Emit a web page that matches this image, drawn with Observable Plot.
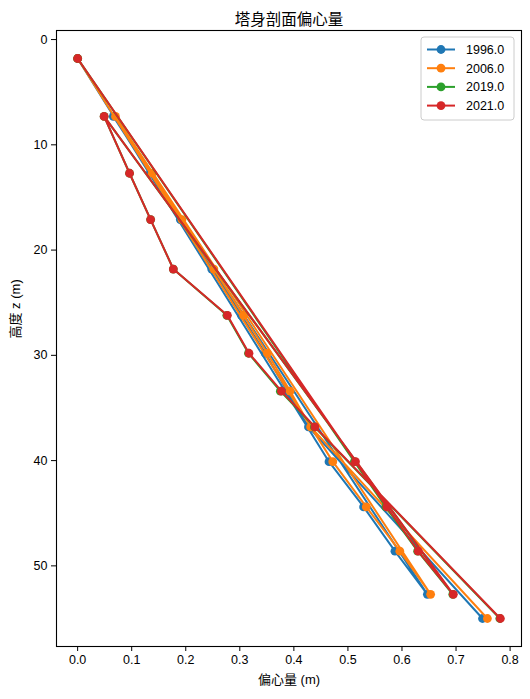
<!DOCTYPE html>
<html>
<head>
<meta charset="utf-8">
<script src="https://cdn.jsdelivr.net/npm/d3@7"></script>
<script src="https://cdn.jsdelivr.net/npm/@observablehq/plot@0.6"></script>
<style>
  html, body { margin: 0; padding: 0; background: #fff; }
  #chart svg { font-family: "Liberation Sans", Arial, "Noto Sans CJK SC", sans-serif; }
</style>
</head>
<body>
<div id="chart"></div>
<script>
// Sections in their original (string-sorted) order: 1,10,11,12,13,2,...,9, then the top point
const sections = ["1", "10", "11", "12", "13", "2", "3", "4", "5", "6", "7", "8", "9", "顶"];
const heights  = [1.8, 40.1, 44.4, 48.6, 52.7, 7.3, 12.7, 17.1, 21.8, 26.2, 29.8, 33.4, 36.8, 55.0];

const years = ["1996.0", "2006.0", "2019.0", "2021.0"];
const colors = ["#1f77b4", "#ff7f0e", "#2ca02c", "#d62728"];

const ecc1996 = [0, 0.465, 0.529, 0.587, 0.647, 0.066, 0.134, 0.190, 0.248, 0.303, 0.347, 0.388, 0.427, 0.749];
const ecc2006 = [0, 0.472, 0.534, 0.596, 0.653, 0.070, 0.138, 0.193, 0.252, 0.307, 0.351, 0.393, 0.431, 0.758];
const ecc2019 = [0, 0.512, 0.570, 0.629, 0.694, 0.049, 0.096, 0.135, 0.177, 0.276, 0.316, 0.375, 0.438, 0.781];
const ecc2021 = [0, 0.514, 0.572, 0.630, 0.695, 0.049, 0.096, 0.135, 0.177, 0.277, 0.317, 0.377, 0.439, 0.782];

const xTicks = [0, 0.1, 0.2, 0.3, 0.4, 0.5, 0.6, 0.7, 0.8];
const yTicks = [0, 10, 20, 30, 40, 50];

const title = "塔身剖面偏心量";
const xLabel = "偏心量 (m)";
const yLabel = "高度 z (m)";

const seriesValues = [ecc1996, ecc2006, ecc2019, ecc2021];
const series = years.map((year, i) =>
  sections.map((s, j) => ({ year, section: s, ecc: seriesValues[i][j], z: heights[j] }))
);

const allX = seriesValues.flat();
const xmin = d3.min(allX), xmax = d3.max(allX);
const xpad = (xmax - xmin) * 0.05;
const ymin = d3.min(heights), ymax = d3.max(heights);
const ypad = (ymax - ymin) * 0.05;

const marks = [];
series.forEach((data) => {
  marks.push(Plot.line(data, { x: "ecc", y: "z", stroke: "year", strokeWidth: 2 }));
  marks.push(Plot.dot(data, { x: "ecc", y: "z", fill: "year", r: 4.4 }));
});

const chart = Plot.plot({
  width: 530,
  height: 699,
  marginLeft: 56,
  marginRight: 9,
  marginTop: 30,
  marginBottom: 53,
  style: { fontSize: "12.5px", background: "#fff", color: "#000" },
  x: { domain: [xmin - xpad, xmax + xpad], ticks: xTicks, tickFormat: ".1f", tickSize: 5, tickPadding: 4, label: null },
  y: { domain: [ymin - ypad, ymax + ypad], reverse: true, ticks: yTicks, tickFormat: "d", tickSize: 5, tickPadding: 4, label: null },
  color: { domain: years, range: colors },
  marks: [
    ...marks,
    Plot.frame({ stroke: "#000", strokeWidth: 1.1 }),
    Plot.text([title], { frameAnchor: "top", dy: -17, fontSize: 15.5, fill: "#000" }),
    Plot.text([xLabel], { frameAnchor: "bottom", dy: 37, fontSize: 13, fill: "#000" }),
    Plot.text([yLabel], { frameAnchor: "left", dx: -41, rotate: -90, fontSize: 13, fill: "#000" })
  ]
});

document.getElementById("chart").appendChild(chart);

// Legend inside the frame, top right
const svg = d3.select(chart);
const lg = svg.append("g").attr("transform", "translate(421,37)");
lg.append("rect")
  .attr("width", 93).attr("height", 83).attr("rx", 3)
  .attr("fill", "#fff").attr("fill-opacity", 0.8)
  .attr("stroke", "#ccc").attr("stroke-width", 1);
years.forEach((y, i) => {
  const cy = 12.5 + i * 18.7;
  lg.append("line").attr("x1", 6).attr("x2", 34).attr("y1", cy).attr("y2", cy)
    .attr("stroke", colors[i]).attr("stroke-width", 2);
  lg.append("circle").attr("cx", 20).attr("cy", cy).attr("r", 4.4).attr("fill", colors[i]);
  lg.append("text").attr("x", 45).attr("y", cy).attr("dy", "0.35em")
    .attr("text-anchor", "start")
    .attr("font-size", 12.5).attr("fill", "#000").text(y);
});
</script>
</body>
</html>
